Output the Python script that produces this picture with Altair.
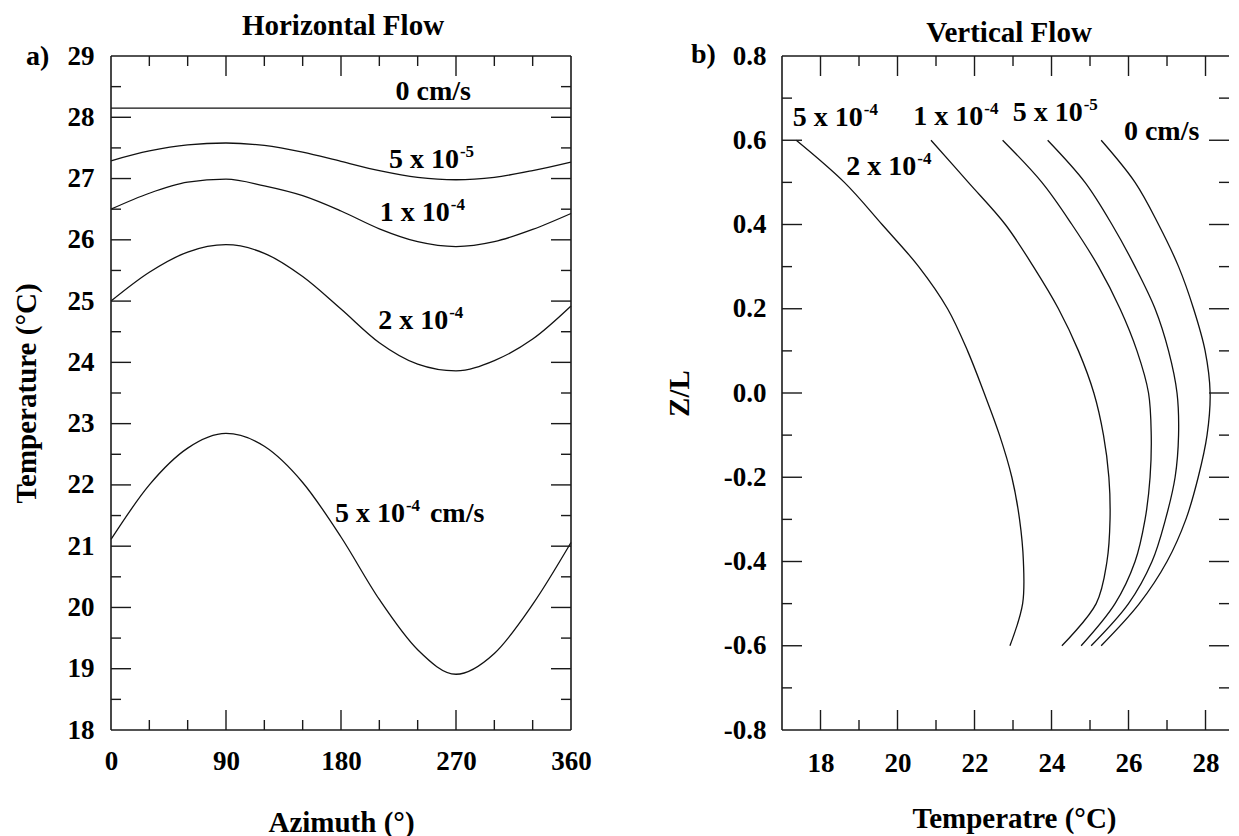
import altair as alt
import pandas as pd

# ---------------- Panel a) Horizontal Flow ----------------
azimuth = [0, 30, 60, 90, 120, 150, 180, 210, 240, 270, 300, 330, 360]
h_names = ["0 cm/s", "5e-5", "1e-4", "2e-4", "5e-4"]
h_T_0 = [28.15, 28.15, 28.15, 28.15, 28.15, 28.15, 28.15, 28.15, 28.15, 28.15, 28.15, 28.15, 28.15]
h_T_5e5 = [27.29, 27.45, 27.55, 27.58, 27.54, 27.43, 27.28, 27.13, 27.02, 26.98, 27.02, 27.13, 27.27]
h_T_1e4 = [26.50, 26.76, 26.94, 26.99, 26.88, 26.72, 26.47, 26.18, 25.97, 25.89, 25.97, 26.17, 26.43]
h_T_2e4 = [25.00, 25.47, 25.80, 25.92, 25.78, 25.40, 24.87, 24.32, 23.97, 23.86, 24.03, 24.38, 24.92]
h_T_5e4 = [21.11, 22.00, 22.60, 22.84, 22.63, 22.04, 21.15, 20.13, 19.31, 18.91, 19.25, 20.05, 21.06]

# ---------------- Panel b) Vertical Flow ----------------
z_over_L = [0.6, 0.5, 0.4, 0.3, 0.2, 0.1, 0.0, -0.1, -0.2, -0.3, -0.4, -0.5, -0.6]
v_names = ["5e-4", "2e-4", "1e-4", "5e-5", "0 cm/s"]
v_T_5e4 = [17.37, 18.62, 19.60, 20.55, 21.30, 21.82, 22.25, 22.65, 22.97, 23.17, 23.27, 23.25, 22.92]
v_T_2e4 = [20.87, 21.84, 22.80, 23.53, 24.18, 24.70, 25.10, 25.35, 25.49, 25.52, 25.44, 25.16, 24.27]
v_T_1e4 = [22.73, 23.75, 24.53, 25.22, 25.78, 26.22, 26.52, 26.59, 26.56, 26.43, 26.17, 25.65, 24.77]
v_T_5e5 = [23.90, 24.87, 25.57, 26.17, 26.69, 27.04, 27.26, 27.30, 27.21, 26.96, 26.61, 26.00, 25.03]
v_T_0 = [25.29, 26.17, 26.78, 27.30, 27.69, 27.99, 28.12, 28.04, 27.81, 27.49, 27.00, 26.28, 25.29]

# ---------------- curve labels ----------------
hl_main = ["0 cm/s", "5 x 10", "1 x 10", "2 x 10", "5 x 10"]
hl_sup = ["", "-5", "-4", "-4", "-4"]
hl_tail = ["", "", "", "", "cm/s"]
hl_az = [281.7, 272.3, 265.2, 263.9, 230.0]
hl_T = [28.42, 27.31, 26.43, 24.68, 21.53]

vl_main = ["5 x 10", "1 x 10", "5 x 10", "0 cm/s", "2 x 10"]
vl_sup = ["-4", "-4", "-5", "", "-4"]
vl_T = [19.10, 22.23, 24.81, 27.84, 20.49]
vl_z = [0.652, 0.655, 0.664, 0.619, 0.536]

# ---------------- axis ticks / labels ----------------
az_labels = [0, 90, 180, 270, 360]
az_major = [90, 180, 270]
az_minor = [30, 60, 120, 150, 210, 240, 300, 330]
th_labels = [18, 19, 20, 21, 22, 23, 24, 25, 26, 27, 28, 29]
th_major = [19, 20, 21, 22, 23, 24, 25, 26, 27, 28]
th_minor = [18.5, 19.5, 20.5, 21.5, 22.5, 23.5, 24.5, 25.5, 26.5, 27.5, 28.5]
tv_labels = [18, 20, 22, 24, 26, 28]
tv_major = [18, 20, 22, 24, 26, 28]
tv_minor = [19, 21, 23, 25, 27]
z_labels = [-0.8, -0.6, -0.4, -0.2, 0.0, 0.2, 0.4, 0.6, 0.8]
z_major = [-0.6, -0.4, -0.2, 0.0, 0.2, 0.4, 0.6]
z_minor = [-0.7, -0.5, -0.3, -0.1, 0.1, 0.3, 0.5, 0.7]

FONT = "Liberation Serif"
INK = "#1a1a1a"
W1, W2, H = 460, 447, 674
MAJ, MIN = 20, 10

h_df = pd.DataFrame([
    {"series": n, "az": a, "T": t}
    for n, vals in zip(h_names, [h_T_0, h_T_5e5, h_T_1e4, h_T_2e4, h_T_5e4])
    for a, t in zip(azimuth, vals)
])
v_df = pd.DataFrame([
    {"series": n, "idx": i, "z": z, "T": t}
    for n, vals in zip(v_names, [v_T_5e4, v_T_2e4, v_T_1e4, v_T_5e5, v_T_0])
    for i, (z, t) in enumerate(zip(z_over_L, vals))
])
hl_df = pd.DataFrame({"x": hl_az, "y": hl_T, "main": hl_main, "sup": hl_sup, "tail": hl_tail})
vl_df = pd.DataFrame({"x": vl_T, "y": vl_z, "main": vl_main, "sup": vl_sup})
one = pd.DataFrame({"k": [0]})

xs1 = alt.Scale(domain=[0, 360], nice=False, zero=False)
ys1 = alt.Scale(domain=[18, 29], nice=False, zero=False)
xs2 = alt.Scale(domain=[17, 28.61], nice=False, zero=False)
ys2 = alt.Scale(domain=[-0.8, 0.8], nice=False, zero=False)


def ax(values, title, pad, title_x=None, title_y=None, expr=None, fmt=None):
    kw = dict(values=values, title=title, ticks=False, tickSize=0, domain=False, grid=False,
              labelFont=FONT, labelFontSize=27, labelFontWeight="bold", labelColor="black",
              labelPadding=pad, labelFlush=False, labelOverlap=False, labelBound=False,
              titleFont=FONT, titleFontSize=29, titleFontWeight="bold", titleColor="black",
              titleBaseline="middle")
    if title_x is not None:
        kw["titleX"] = title_x
    if title_y is not None:
        kw["titleY"] = title_y
    if expr is not None:
        kw["labelExpr"] = expr
    if fmt is not None:
        kw["format"] = fmt
    return alt.Axis(**kw)


zexpr = "(datum.value < 0 ? '-' : '') + format(abs(datum.value), '.1f')"
AX1 = ax(az_labels, "Azimuth (°)", 18, title_y=92, fmt="d")
AY1 = ax(th_labels, "Temperature (°C)", 17, title_x=-85, fmt="d")
AX2 = ax(tv_labels, "Temperatre (°C)", 20, title_x=232, title_y=88, fmt="d")
AY2 = ax(z_labels, "Z/L", 16, title_x=-103, expr=zexpr)


def ticks(xs, ys, xa, ya, xmaj, xmin, ymaj, ymin, W):
    out = []
    for vals, L in ((xmaj, MAJ), (xmin, MIN)):
        base = alt.Chart(pd.DataFrame({"v": vals})).mark_rule(color=INK, strokeWidth=1.4)
        out.append(base.encode(x=alt.X("v:Q", scale=xs, axis=xa), y=alt.value(H), y2=alt.value(H - L)))
        out.append(base.encode(x=alt.X("v:Q", scale=xs, axis=xa), y=alt.value(0), y2=alt.value(L)))
    for vals, L in ((ymaj, MAJ), (ymin, MIN)):
        base = alt.Chart(pd.DataFrame({"v": vals})).mark_rule(color=INK, strokeWidth=1.4)
        out.append(base.encode(y=alt.Y("v:Q", scale=ys, axis=ya), x=alt.value(0), x2=alt.value(L)))
        out.append(base.encode(y=alt.Y("v:Q", scale=ys, axis=ya), x=alt.value(W), x2=alt.value(W - L)))
    return out


def frame(W, right=True):
    base = alt.Chart(one).mark_rule(color=INK, strokeWidth=1.6)
    out = [
        base.encode(x=alt.value(0), x2=alt.value(W), y=alt.value(0)),
        base.encode(x=alt.value(0), x2=alt.value(W), y=alt.value(H)),
        base.encode(x=alt.value(0), y=alt.value(0), y2=alt.value(H)),
    ]
    if right:
        out.append(base.encode(x=alt.value(W), y=alt.value(0), y2=alt.value(H)))
    return out


def txt(text, x, y, size=29, align="center"):
    return alt.Chart(one).mark_text(text=text, font=FONT, fontSize=size, fontWeight="bold",
                                    color="black", align=align, baseline="alphabetic").encode(
        x=alt.value(x), y=alt.value(y))


def labels(df, xs, ys, xa, ya, tail=False):
    st = dict(font=FONT, fontWeight="bold", color="black", baseline="middle")
    enc = dict(x=alt.X("x:Q", scale=xs, axis=xa), y=alt.Y("y:Q", scale=ys, axis=ya))
    out = [
        alt.Chart(df).mark_text(align="right", fontSize=28, **st).encode(text="main:N", **enc),
        alt.Chart(df).mark_text(align="left", fontSize=17, dx=1, dy=-8, **st).encode(text="sup:N", **enc),
    ]
    if tail:
        out.append(alt.Chart(df).mark_text(align="left", fontSize=28, dx=25, **st).encode(text="tail:N", **enc))
    return out


left_lines = alt.Chart(h_df).mark_line(color="#111", strokeWidth=1.3, interpolate="monotone").encode(
    x=alt.X("az:Q", scale=xs1, axis=AX1),
    y=alt.Y("T:Q", scale=ys1, axis=AY1),
    detail="series:N",
)
left = alt.layer(
    left_lines,
    *frame(W1),
    *ticks(xs1, ys1, AX1, AY1, az_major, az_minor, th_major, th_minor, W1),
    *labels(hl_df, xs1, ys1, AX1, AY1, tail=True),
    txt("Horizontal Flow", 232, -21),
    txt("a)", -85, 8.5, size=28, align="left"),
).properties(width=W1, height=H)

right_lines = alt.Chart(v_df).mark_line(color="#111", strokeWidth=1.3, interpolate="catmull-rom").encode(
    x=alt.X("T:Q", scale=xs2, axis=AX2),
    y=alt.Y("z:Q", scale=ys2, axis=AY2),
    detail="series:N",
    order="idx:Q",
)
right = alt.layer(
    right_lines,
    *frame(W2, right=False),
    *ticks(xs2, ys2, AX2, AY2, tv_major, tv_minor, z_major, z_minor, W2),
    *labels(vl_df, xs2, ys2, AX2, AY2),
    txt("Vertical Flow", 227, -14),
    txt("b)", -91, 7, size=28, align="left"),
).properties(width=W2, height=H)

chart = alt.hconcat(left, right, spacing=211, bounds="flush").properties(
    padding={"left": 4, "top": 4, "right": 0, "bottom": 0},
    background="white",
).configure_view(stroke=None)

chart.save("out.html", embed_options={"renderer": "svg", "actions": False})
